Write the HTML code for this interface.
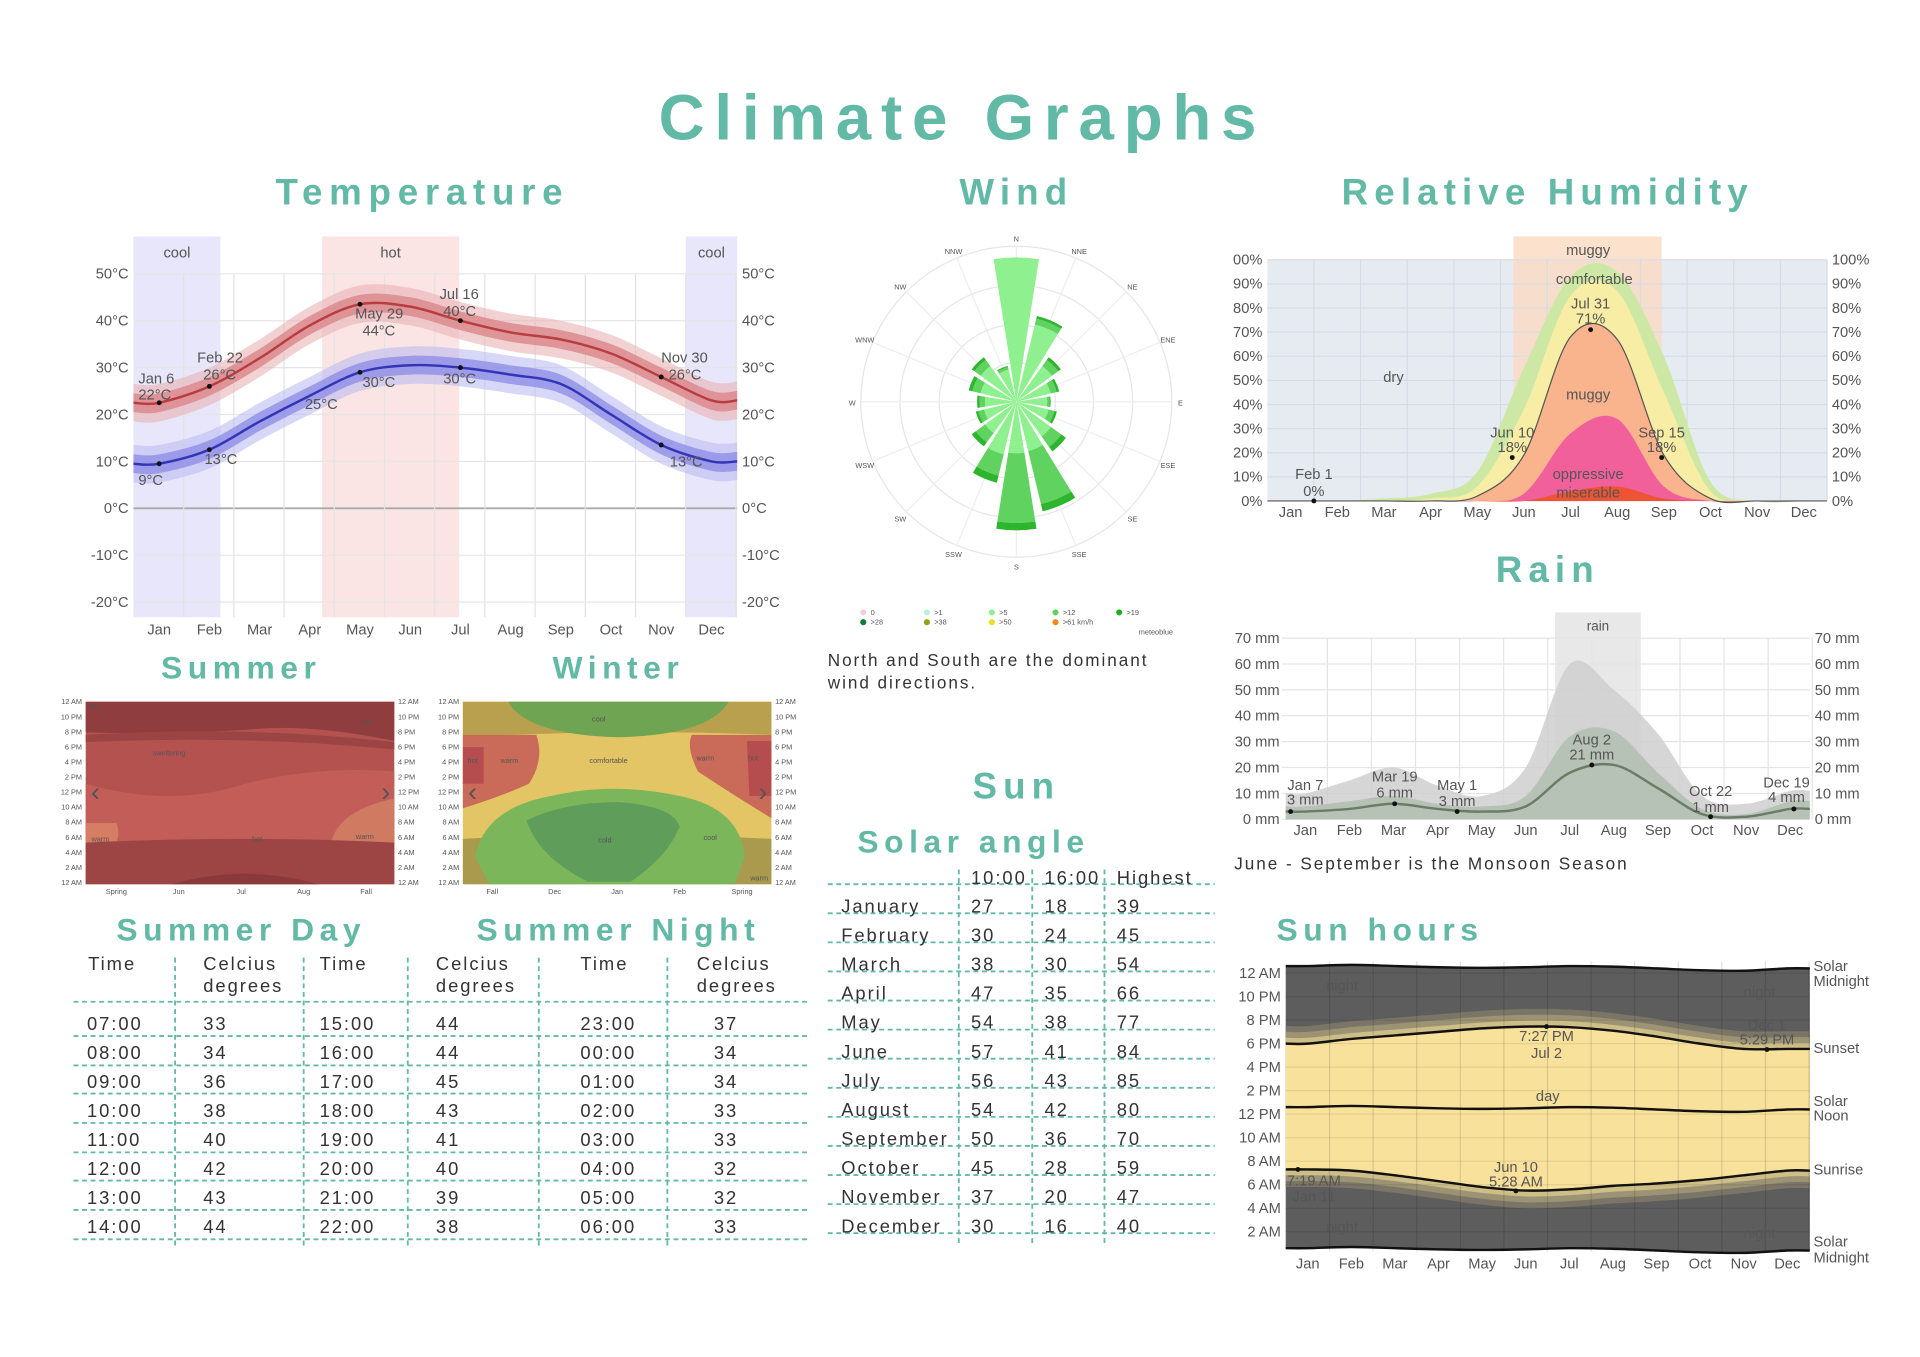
<!DOCTYPE html>
<html><head><meta charset="utf-8"><title>Climate Graphs</title>
<style>
html,body{margin:0;padding:0;background:#fff;}
svg{display:block;}
.h{font-family:"Liberation Sans",sans-serif;font-weight:bold;fill:#62b9a6;text-anchor:middle;}
.t{font-family:"Liberation Sans Narrow","Liberation Sans",sans-serif;fill:#555;}
.tb{font-family:"Liberation Sans",sans-serif;fill:#333;letter-spacing:1.6px;}
</style></head>
<body>
<svg id="root" width="1920" height="1357" viewBox="0 0 1568 1108" xmlns="http://www.w3.org/2000/svg">
<rect width="1568" height="1108" fill="#fff"/>
<text class="h" x="786" y="114" font-size="52" letter-spacing="8">Climate Graphs</text>
<text class="h" x="345" y="167" font-size="30" letter-spacing="5.5">Temperature</text>
<text class="h" x="830" y="167" font-size="30" letter-spacing="5">Wind</text>
<text class="h" x="1264" y="167" font-size="30" letter-spacing="5">Relative Humidity</text>
<text class="h" x="1264" y="475" font-size="30" letter-spacing="5">Rain</text>
<text class="h" x="197" y="554" font-size="26" letter-spacing="4.5">Summer</text>
<text class="h" x="505" y="554" font-size="26" letter-spacing="4.5">Winter</text>
<text class="h" x="830" y="652" font-size="30" letter-spacing="5">Sun</text>
<text class="h" x="795" y="696" font-size="26" letter-spacing="4.5">Solar angle</text>
<text class="h" x="197" y="768" font-size="26" letter-spacing="4.5">Summer Day</text>
<text class="h" x="505" y="768" font-size="26" letter-spacing="4.5">Summer Night</text>
<text class="h" x="1127" y="768" font-size="26" letter-spacing="4.5">Sun hours</text>
<text class="tb" x="676" y="544" font-size="14">North and South are the dominant</text>
<text class="tb" x="676" y="562" font-size="14">wind directions.</text>
<text class="tb" x="1008" y="710" font-size="14">June - September is the Monsoon Season</text>

<!-- Summer heatmap -->
<g>
<rect x="70" y="573" width="252" height="149" fill="#b4524f"/>
<path d="M70 573H322V605Q250 590 200 596Q130 600 70 598Z" fill="#8f3d3f"/>
<path d="M70 600Q200 592 322 606V612Q200 600 70 606Z" fill="#9b4444"/>
<path d="M70 640Q140 660 200 640Q260 625 322 630V690H70Z" fill="#c25e57"/>
<path d="M70 672H95Q100 685 90 695H70Z" fill="#d77d64"/>
<path d="M270 690Q275 662 322 652V690Z" fill="#d07a62"/>
<path d="M70 688Q200 682 322 688V722H70Z" fill="#9c4544"/>
<path d="M140 722Q200 705 260 722Z" fill="#8b3a3b"/>
</g>
<!-- Winter heatmap -->
<g>
<rect x="378" y="573" width="252" height="149" fill="#e4c565"/>
<path d="M378 573H630V600Q500 595 378 602Z" fill="#b9a04f"/>
<path d="M415 573H595Q580 600 505 602Q430 600 415 573Z" fill="#6ea452"/>
<path d="M378 600H438Q445 620 432 640Q410 650 378 660Z" fill="#c96b58"/>
<path d="M378 610H395V640H378Z" fill="#b54d4e"/>
<path d="M565 600H630V668Q600 650 570 630Q560 610 565 600Z" fill="#c96b58"/>
<path d="M610 605H630V650H612Z" fill="#b54d4e"/>
<path d="M378 685Q500 678 630 685V722H378Z" fill="#a99a4e"/>
<path d="M388 700Q395 660 450 650Q500 638 555 650Q605 660 608 700L600 722H400Z" fill="#7bb75a"/>
<path d="M430 670Q460 655 505 655Q550 658 555 675Q545 700 515 720H480Q440 700 430 670Z" fill="#5f9d5b"/>
</g>
<g id="dyn"></g>
</svg>
<script>
const NS='http://www.w3.org/2000/svg';
const dyn=document.getElementById('dyn');
function mk(tag,attrs,parent){const e=document.createElementNS(NS,tag);for(const k in attrs)e.setAttribute(k,attrs[k]);(parent||dyn).appendChild(e);return e;}
function txt(s,x,y,cls,extra){const a=Object.assign({x:x,y:y,class:cls||'t','font-size':cls==='tb'?15:12},extra||{});const e=mk('text',a);e.textContent=s;return e;}
function smooth(p){let d='M'+p[0][0]+' '+p[0][1];for(let i=0;i<p.length-1;i++){const p0=p[i-1]||p[i],p1=p[i],p2=p[i+1],p3=p[i+2]||p2;d+=' C'+(p1[0]+(p2[0]-p0[0])/6)+' '+(p1[1]+(p2[1]-p0[1])/6)+' '+(p2[0]-(p3[0]-p1[0])/6)+' '+(p2[1]-(p3[1]-p1[1])/6)+' '+p2[0]+' '+p2[1];}return d;}
function band(up,lo){return smooth(up)+' '+smooth(lo.slice().reverse()).replace(/^M/,'L')+' Z';}

const months=['Jan','Feb','Mar','Apr','May','Jun','Jul','Aug','Sep','Oct','Nov','Dec'];

// ===== Temperature =====
const tempHigh=[22.5,26,32,39,43.5,43,40,37.5,36,33,28,23];
const tempLow=[9.5,12.5,18.5,24,29,30.5,30,28.5,26.5,20,13.5,10];
const tempTicks=[50,40,30,20,10,0,-10,-20];
const tX=i=>130+i*41, tY=v=>415-v*3.83;
{
 const g=mk('g',{});
 
 
 const bandsT=[[109,180,'#e7e6fb','cool'],[263,375,'#fbe4e4','hot'],[560,602,'#e7e6fb','cool']];
 bandsT.forEach(b=>{const r=mk('rect',{x:b[0],y:193,width:b[1]-b[0],height:311,fill:b[2]},g);
  
  
  txt(b[3],(b[0]+b[1])/2,210,'t',{'text-anchor':'middle',fill:'#444'});});
 tempTicks.forEach(v=>{mk('line',{x1:109,x2:602,y1:tY(v),y2:tY(v),stroke:v===0?'#aaa':'#e6e6e6','stroke-width':v===0?1.5:1},g);
  txt(v+'°C',105,tY(v)+4,'t',{'text-anchor':'end'});txt(v+'°C',606,tY(v)+4,'t');});
 months.forEach((m,i)=>{mk('line',{x1:tX(i)+20,x2:tX(i)+20,y1:224,y2:504,stroke:'#e3e3e3'},g);txt(m,tX(i),518,'t',{'text-anchor':'middle'});});
 const ext=(a,o)=>[[109,tY(a[0]+o)]].concat(a.map((v,i)=>[tX(i),tY(v+o)])).concat([[602,tY(a[11]+o)]]);
 [[tempHigh,'#d9868a','#e9b3b5','#b83c40','high'],[tempLow,'#8e8ee6','#bcbcf2','#3434b8','low']].forEach(s=>{
  const b2=mk('path',{d:band(ext(s[0],4),ext(s[0],-4)),fill:s[2],opacity:0.6},g);
  
  
  const b1=mk('path',{d:band(ext(s[0],2),ext(s[0],-2)),fill:s[1],opacity:0.8},g);
  
  
  const l=mk('path',{d:smooth(ext(s[0],0)),fill:'none',stroke:s[3],'stroke-width':2},g);
  
  
  s[0].forEach((v,i)=>{if([0,1,4,6,10].includes(i)){const c=mk('circle',{cx:tX(i),cy:tY(v),r:2,fill:'#111'},g);
   
   }});
 });
 [['Jan 6',113,313],['22°C',113,326],['Feb 22',161,296],['26°C',166,310],['May 29',290,260],['44°C',296,274],['Jul 16',359,244],['40°C',362,258],['Nov 30',540,296],['26°C',546,310],['25°C',249,334],['30°C',296,316],['30°C',362,313],['13°C',167,379],['9°C',113,396],['13°C',547,381]].forEach(a=>txt(a[0],a[1],a[2],'t',{fill:'#333'}));
}

// ===== Wind rose =====
const windDirs=['N','NNE','NE','ENE','E','ESE','SE','SSE','S','SSW','SW','WSW','W','WNW','NW','NNW'];
const windLen=[118,72,45,36,28,34,50,92,105,68,45,34,32,40,45,30];
const windDark=[0,0.1,0.2,0.2,0.1,0.2,0.3,0.55,0.6,0.35,0.3,0.2,0.2,0.25,0.2,0.1];
{
 const cx=830,cy=328,g=mk('g',{});
 
 
 [127,95,63,32].forEach(r=>mk('circle',{cx:cx,cy:cy,r:r,fill:'none',stroke:'#e6e6e6'},g));
 windDirs.forEach((d,k)=>{const a=k*22.5*Math.PI/180;
  mk('line',{x1:cx,y1:cy,x2:cx+127*Math.sin(a),y2:cy-127*Math.cos(a),stroke:'#eee'},g);
  txt(d,cx+134*Math.sin(a),cy-134*Math.cos(a)+3,'t',{'text-anchor':'middle','font-size':6,fill:'#777'});});
 const wedge=(k,r0,r1)=>{const a0=(k*22.5-9)*Math.PI/180,a1=(k*22.5+9)*Math.PI/180;
  const P=(r,a)=>(cx+r*Math.sin(a)).toFixed(1)+' '+(cy-r*Math.cos(a)).toFixed(1);
  return 'M'+P(r0,a0)+' L'+P(r1,a0)+' A'+r1+' '+r1+' 0 0 1 '+P(r1,a1)+' L'+P(r0,a1)+' A'+r0+' '+r0+' 0 0 0 '+P(r0,a0)+'Z';};
 windLen.forEach((L,k)=>{const split=L*(1-windDark[k]);
  const p=mk('path',{d:wedge(k,0.5,split),fill:'#8ef08e'},g);
  
  
  if(windDark[k]>0){const q=mk('path',{d:wedge(k,split,L-Math.min(6,L*windDark[k]*0.3)),fill:'#5fd25f'},g);
   
   
   const t=mk('path',{d:wedge(k,L-Math.min(6,L*windDark[k]*0.3),L),fill:'#2db52d'},g);
   
   }});
 const leg=[['0','#eecfd6',705,502],['>1','#b8f3d6',757,502],['>5','#8ef08e',810,502],['>12','#5fd25f',862,502],['>19','#1fae1f',914,502],['>28','#177a3b',705,510],['>38','#8aa51b',757,510],['>50','#e5e028',810,510],['>61 km/h','#ef8a20',862,510]];
 leg.forEach(l=>{const c=mk('circle',{cx:l[2],cy:l[3]-2,r:2.5,fill:l[1]},g);
  
  
  txt(l[0],l[2]+6,l[3],'t',{'font-size':6,fill:'#666'});});
 txt('meteoblue',930,518,'t',{'font-size':6,fill:'#aaa'});
}

// ===== Humidity =====
const humComfort=[0,0,1,3,12,55,93,95,60,8,0,0];
const humYellow=[0,0,0,1,6,38,85,87,45,4,0,0];
const humMuggy=[0,0,0,0,2,19,68,67,19,1,0,0];
const humOppr=[0,0,0,0,0,3,28,34,6,0,0,0];
const humMis=[0,0,0,0,0,0,4,6,1,0,0,0];
const humTicks=[0,10,20,30,40,50,60,70,80,90,100];
const hX=i=>1054+i*38.1, hY=v=>409-v*1.97;
{
 const g=mk('g',{});
 
 
 mk('rect',{x:1035,y:212,width:457,height:197,fill:'#e6ebf2'},g);
 const mb=mk('rect',{x:1236,y:193,width:121,height:216,fill:'#fbd9c0',opacity:0.8},g);
 
 
 txt('muggy',1297,208,'t',{'text-anchor':'middle',fill:'#444'});
 humTicks.forEach(v=>{mk('line',{x1:1035,x2:1492,y1:hY(v),y2:hY(v),stroke:'#d8dde4'},g);
  txt((v===100?'00':v)+'%',1031,hY(v)+4,'t',{'text-anchor':'end'});txt(v+'%',1496,hY(v)+4,'t');});
 months.forEach((m,i)=>{mk('line',{x1:hX(i)+19,x2:hX(i)+19,y1:212,y2:409,stroke:'#d6dbe2'},g);txt(m,hX(i),422,'t',{'text-anchor':'middle'});});
 const ext=a=>[[1035,hY(a[0])]].concat(a.map((v,i)=>[hX(i),hY(v)])).concat([[1492,hY(a[11])]]);
 [[humComfort,'#cde8a4','comfortable'],[humYellow,'#f8eda5','yellow'],[humMuggy,'#f9b48e','muggy'],[humOppr,'#f2609b','oppressive'],[humMis,'#ee5434','miserable']].forEach(s=>{
  const p=mk('path',{d:smooth(ext(s[0]))+' L1492 409 L1035 409Z',fill:s[1]},g);
  
  });
 mk('path',{d:smooth(ext(humMuggy)),fill:'none',stroke:'#555','stroke-width':1},g);
 [[1235,hY(18)],[1299,hY(71)],[1357,hY(18)],[1073,hY(0)]].forEach(p=>{const c=mk('circle',{cx:p[0],cy:p[1],r:2,fill:'#111'},g);
  
  });
 [['dry',1138,312],['comfortable',1302,232],['Jul 31',1299,252],['71%',1299,264],['muggy',1297,326],['oppressive',1297,391],['miserable',1297,406],['Jun 10',1235,357],['18%',1235,369],['Sep 15',1357,357],['18%',1357,369],['Feb 1',1073,391],['0%',1073,405]].forEach(a=>txt(a[0],a[1],a[2],'t',{'text-anchor':'middle',fill:'#333'}));
}

// ===== Rain =====
const rainAvg=[3,4,6,4,3,5,18,21,12,2,1,4];
const rainMid=[5,7,9,6,5,9,32,34,18,4,2,7];
const rainHigh=[10,15,20,13,9,20,60,50,33,9,6,11];
const rainTicks=[0,10,20,30,40,50,60,70];
const rX=i=>1066+i*36, rY=v=>669-v*2.114;
{
 const g=mk('g',{});
 
 
 const rb=mk('rect',{x:1270,y:500,width:70,height:169,fill:'#e8e8e8'},g);
 
 
 txt('rain',1305,515,'t',{'text-anchor':'middle',fill:'#444','font-size':11});
 rainTicks.forEach(v=>{mk('line',{x1:1047,x2:1478,y1:rY(v),y2:rY(v),stroke:'#e4e4e4'},g);
  txt(v+' mm',1045,rY(v)+4,'t',{'text-anchor':'end'});txt(v+' mm',1482,rY(v)+4,'t');});
 months.forEach((m,i)=>{mk('line',{x1:rX(i)+18,x2:rX(i)+18,y1:521,y2:669,stroke:'#e4e4e4'},g);txt(m,rX(i),682,'t',{'text-anchor':'middle'});});
 const ext=a=>[[1050,rY(a[0])]].concat(a.map((v,i)=>[rX(i),rY(v)])).concat([[1478,rY(a[11])]]);
 const a1=mk('path',{d:smooth(ext(rainHigh))+' L1478 669 L1050 669Z',fill:'#cfcfcf',opacity:0.85},g);
 
 
 const a2=mk('path',{d:smooth(ext(rainMid))+' L1478 669 L1050 669Z',fill:'#b4c0b2',opacity:0.9},g);
 
 
 const l=mk('path',{d:smooth(ext(rainAvg)),fill:'none',stroke:'#6a7c68','stroke-width':2},g);
 
 
 [[1054,3],[1139,6],[1190,3],[1300,21],[1397,1],[1465,4]].forEach(p=>{const c=mk('circle',{cx:p[0],cy:rY(p[1]),r:2,fill:'#111'},g);
  
  });
 [['Jan 7',1066,645],['3 mm',1066,657],['Mar 19',1139,638],['6 mm',1139,651],['May 1',1190,645],['3 mm',1190,658],['Aug 2',1300,608],['21 mm',1300,620],['Oct 22',1397,650],['1 mm',1397,663],['Dec 19',1459,643],['4 mm',1459,655]].forEach(a=>txt(a[0],a[1],a[2],'t',{'text-anchor':'middle',fill:'#333'}));
}

// ===== Sun hours =====
const sunset=[18.0,18.4,18.7,19.0,19.3,19.45,19.4,19.1,18.6,18.0,17.55,17.55];
const sunrise=[7.3,7.2,6.8,6.3,5.8,5.5,5.6,5.9,6.1,6.4,6.8,7.2];
const solarNoon=[12.6,12.7,12.6,12.5,12.45,12.5,12.6,12.55,12.4,12.25,12.2,12.4];
const solarMidUp=[24.6,24.7,24.6,24.5,24.45,24.5,24.6,24.55,24.4,24.25,24.2,24.4];
const solarMidLo=[0.6,0.7,0.6,0.5,0.45,0.5,0.6,0.55,0.4,0.25,0.2,0.4];
const sunTickLabels=['12 AM','10 PM','8 PM','6 PM','4 PM','2 PM','12 PM','10 AM','8 AM','6 AM','4 AM','2 AM'];
const sunTickHours=[24,22,20,18,16,14,12,10,8,6,4,2];
const sX=i=>1068+i*35.6, sY=h=>1025-h*9.6;
{
 const g=mk('g',{});
 
 
 const ext=a=>[[1050,sY(a[0])]].concat(a.map((v,i)=>[sX(i),sY(v)])).concat([[1478,sY(a[11])]]);
 const n=mk('path',{d:band(ext(solarMidUp),ext(solarMidLo)),fill:'#5d5d5d'},g);
 
 
 [[1.5,'#7a7566'],[1.0,'#9c9374'],[0.5,'#cdbd86']].forEach(t=>{
  mk('path',{d:band(ext(sunset.map(v=>v+t[0])),ext(sunrise.map(v=>v-t[0]))),fill:t[1]},g);});
 const d=mk('path',{d:band(ext(sunset),ext(sunrise)),fill:'#f8e19a'},g);
 
 
 sunTickHours.forEach((h,k)=>{mk('line',{x1:1050,x2:1478,y1:sY(h),y2:sY(h),stroke:'rgba(0,0,0,0.08)'},g);
  txt(sunTickLabels[k],1046,sY(h)+4,'t',{'text-anchor':'end'});});
 months.forEach((m,i)=>{mk('line',{x1:sX(i)+17.8,x2:sX(i)+17.8,y1:785,y2:1022,stroke:'rgba(0,0,0,0.12)'},g);txt(m,sX(i),1036,'t',{'text-anchor':'middle'});});
 [[sunset,'sunset-line'],[sunrise,'sunrise-line'],[solarNoon,'solar-noon-line'],[solarMidUp,'solar-midnight-top-line'],[solarMidLo,'solar-midnight-bottom-line']].forEach(s=>{
  const l=mk('path',{d:smooth(ext(s[0])),fill:'none',stroke:'#111','stroke-width':2},g);
  
  });
 [[1263,19.45],[1443,17.5],[1060,7.3],[1238,5.47]].forEach(p=>{const c=mk('circle',{cx:p[0],cy:sY(p[1]),r:2,fill:'#111'},g);
  
  });
 [['night',1096,809,'#bbb'],['night',1437,814,'#bbb'],['night',1096,1006,'#bbb'],['night',1437,1011,'#bbb'],['7:27 PM',1263,850,'#333'],['Jul 2',1263,864,'#333'],['day',1264,899,'#333'],['Dec 1',1443,841,'#eee'],['5:29 PM',1443,853,'#eee'],['Jun 10',1238,957,'#333'],['5:28 AM',1238,969,'#333'],['7:19 AM',1073,968,'#eee'],['Jan 11',1073,981,'#eee']].forEach(a=>txt(a[0],a[1],a[2],'t',{'text-anchor':'middle',fill:a[3]}));
 [['Solar',793],['Midnight',805],['Sunset',860],['Solar',903],['Noon',915],['Sunrise',959],['Solar',1018],['Midnight',1031]].forEach(a=>txt(a[0],1481,a[1],'t',{fill:'#333'}));
}

// ===== Tables =====
const dayTimes=['07:00','08:00','09:00','10:00','11:00','12:00','13:00','14:00'];
const dayTemps=[33,34,36,38,40,42,43,44];
const aftTimes=['15:00','16:00','17:00','18:00','19:00','20:00','21:00','22:00'];
const aftTemps=[44,44,45,43,41,40,39,38];
const nightTimes=['23:00','00:00','01:00','02:00','03:00','04:00','05:00','06:00'];
const nightTemps=[37,34,34,33,33,32,32,33];
const solarMonths=['January','February','March','April','May','June','July','August','September','October','November','December'];
const angle10=[27,30,38,47,54,57,56,54,50,45,37,30];
const angle16=[18,24,30,35,38,41,43,42,36,28,20,16];
const angleHigh=[39,45,54,66,77,84,85,80,70,59,47,40];
{
 const g=mk('g',{});
 
 
 const dash={stroke:'#62b9a6','stroke-width':1.5,'stroke-dasharray':'4 3'};
 [143,248,333,440,545].forEach(x=>mk('line',Object.assign({x1:x,x2:x,y1:782,y2:1018},dash),g));
 [818,846,870,893,917,941,964,988,1012].forEach(y=>mk('line',Object.assign({x1:60,x2:662,y1:y,y2:y},dash),g));
 [['Time',72],['Celcius',166],['Time',261],['Celcius',356],['Time',474],['Celcius',569]].forEach(h=>txt(h[0],h[1],792,'tb'));
 [166,356,569].forEach(x=>txt('degrees',x,810,'tb'));
 const cols=[[dayTimes,71],[dayTemps,166],[aftTimes,261],[aftTemps,356],[nightTimes,474],[nightTemps,583]];
 cols.forEach(c=>c[0].forEach((v,i)=>{const t=txt(String(v),c[1],841+i*23.7,'tb');
  
  }));
 const s=mk('g',{});
 
 
 [783,843,902].forEach(x=>mk('line',Object.assign({x1:x,x2:x,y1:710,y2:1018},dash),s));
 for(let i=0;i<13;i++){const y=722+i*23.75;mk('line',Object.assign({x1:676,x2:992,y1:y,y2:y},dash),s);}
 txt('10:00',793,722,'tb');txt('16:00',853,722,'tb');txt('Highest',912,722,'tb');
 solarMonths.forEach((m,i)=>{const y=745+i*23.75;
  txt(m,687,y,'tb');txt(String(angle10[i]),793,y,'tb');txt(String(angle16[i]),853,y,'tb');txt(String(angleHigh[i]),912,y,'tb');});
}

// ===== Heatmap axis labels =====
{
 const hl=['12 AM','10 PM','8 PM','6 PM','4 PM','2 PM','12 PM','10 AM','8 AM','6 AM','4 AM','2 AM','12 AM'];
 hl.forEach((l,k)=>{const y=575+k*12.3;
  [[67,'end'],[325,'start'],[375,'end'],[633,'start']].forEach(p=>txt(l,p[0],y,'t',{'text-anchor':p[1],'font-size':6,fill:'#777'}));});
 ['Spring','Jun','Jul','Aug','Fall'].forEach((m,i)=>txt(m,95+i*51,730,'t',{'text-anchor':'middle','font-size':6,fill:'#777'}));
 ['Fall','Dec','Jan','Feb','Spring'].forEach((m,i)=>txt(m,402+i*51,730,'t',{'text-anchor':'middle','font-size':6,fill:'#777'}));
 [['hot',76,579],['hot',300,591],['sweltering',138,617],['warm',82,687],['hot',210,687],['warm',298,685],['cool',489,589],['hot',386,623],['warm',416,623],['comfortable',497,623],['warm',576,621],['hot',615,621],['cold',494,688],['cool',580,686],['warm',620,719]].forEach(a=>txt(a[0],a[1],a[2],'t',{'text-anchor':'middle','font-size':6,fill:'#fff'}));
 [[78,648,'‹'],[315,648,'›'],[386,648,'‹'],[623,648,'›']].forEach(a=>{const t=txt(a[2],a[0],a[1]+6,'t',{'text-anchor':'middle','font-size':22,fill:'#eee'});
  
  });
}
</script>
</body></html>
